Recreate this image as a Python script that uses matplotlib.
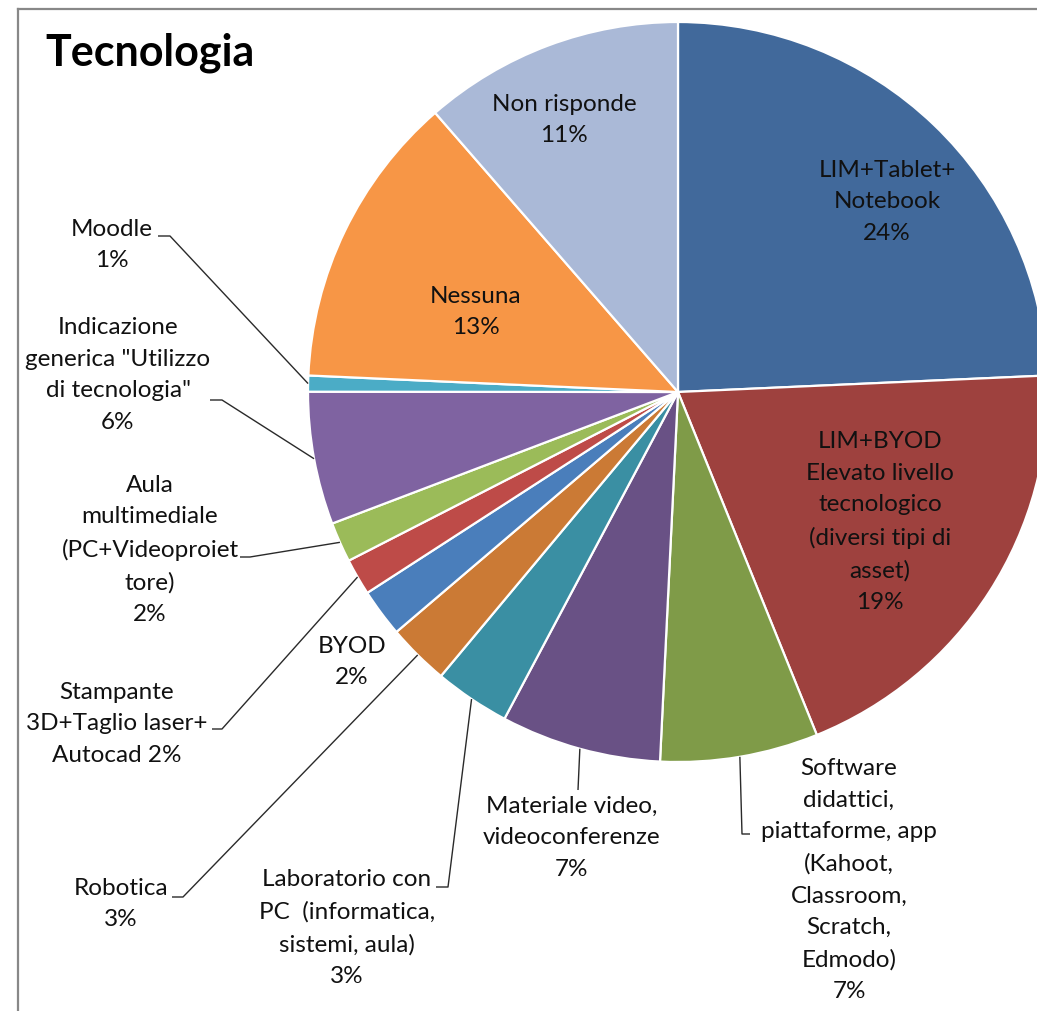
import matplotlib
matplotlib.use("Agg")
import matplotlib.pyplot as plt
import numpy as np

W, H = 1037, 1011

categories = [
    "LIM+Tablet+\nNotebook",
    "LIM+BYOD\nElevato livello\ntecnologico\n(diversi tipi di\nasset)",
    "Software\ndidattici,\npiattaforme, app\n(Kahoot,\nClassroom,\nScratch,\nEdmodo)",
    "Materiale video,\nvideoconferenze",
    "Laboratorio con\nPC  (informatica,\nsistemi, aula)",
    "Robotica",
    "BYOD",
    "Stampante\n3D+Taglio laser+\nAutocad",
    "Aula\nmultimediale\n(PC+Videoproiet\ntore)",
    "Indicazione\ngenerica \"Utilizzo\ndi tecnologia\"",
    "Moodle",
    "Nessuna",
    "Non risponde",
]
values = [24.3, 19.6, 6.9, 7.0, 3.3, 2.7, 2.1, 1.6, 1.75, 5.8, 0.7, 12.9, 11.4]
pct_labels = ["24%", "19%", "7%", "7%", "3%", "3%", "2%", "2%", "2%", "6%", "1%", "13%", "11%"]
pct_sep = ["\n"] * 7 + [" "] + ["\n"] * 5

colors = ["#41699B", "#9E413E", "#7F9B48", "#695185", "#3A8FA3", "#CB7A35",
          "#4A7EBB", "#BE4B48", "#9BBB59", "#7F63A1", "#4BACC6", "#F79646", "#AAB9D7"]

# label placement (pixel coords, text centre) and leader elbows
label_pos = {0: (887, 202), 1: (880, 522), 2: (849, 880), 3: (572, 838),
             4: (347, 928), 5: (121, 904), 6: (352, 662), 7: (117, 724),
             8: (150, 550), 9: (118, 375), 10: (112, 245), 11: (476, 312),
             12: (564, 120)}
leaders = {2: [(750, 834), (742, 834)], 3: [(578, 790)],
           4: [(436, 887), (448, 887)], 5: [(172, 897), (183, 897)],
           7: [(212, 729), (222, 729)], 8: [(240, 557), (250, 557)],
           9: [(210, 400), (222, 400)], 10: [(158, 236), (170, 236)]}

FONT = "Lato"
plt.rcParams['font.family'] = [FONT, "DejaVu Sans"]

fig = plt.figure(figsize=(W / 100, H / 100), dpi=100)
ax = fig.add_axes([0, 0, 1, 1])

cx, cy, R = 678, 392, 370

def P(x, y):
    return x, H - y

wedges, _ = ax.pie(values, colors=colors, startangle=90, counterclock=False,
                   center=P(cx, cy), radius=R,
                   wedgeprops=dict(edgecolor="white", linewidth=1.6))

ax.set_xlim(0, W)
ax.set_ylim(0, H)
ax.set_aspect("auto")
ax.axis("off")

for i, w in enumerate(wedges):
    txt = categories[i] + pct_sep[i] + pct_labels[i]
    x, y = label_pos[i]
    ax.text(*P(x, y), txt, ha="center", va="center", fontsize=17.5,
            linespacing=1.63, color="#111111")
    if i in leaders:
        mid = np.deg2rad((w.theta1 + w.theta2) / 2)
        ex = cx + R * np.cos(mid)
        ey = cy - R * np.sin(mid)
        pts = leaders[i] + [(ex, ey)]
        xs = [p[0] for p in pts]
        ys = [H - p[1] for p in pts]
        ax.plot(xs, ys, color="#2a2a2a", lw=1.0, solid_capstyle="butt")

ax.text(*P(45, 53), "Tecnologia", ha="left", va="center", fontsize=31,
        fontweight="bold", color="black")

# chart frame (top and left edges visible)
ax.plot([18, W], [H - 9, H - 9], color="#888888", lw=1.6, clip_on=False)
ax.plot([18, 18], [H - 9, 0], color="#888888", lw=1.6, clip_on=False)

fig.savefig("out.png", dpi=100, facecolor="white")
